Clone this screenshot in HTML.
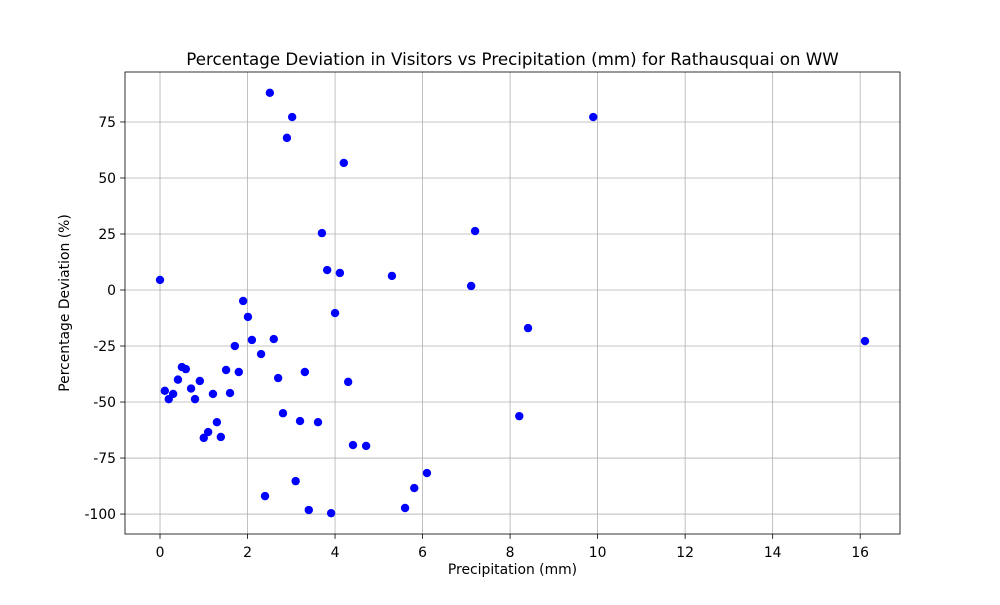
<!DOCTYPE html>
<html><head><meta charset="utf-8"><style>
body{margin:0;background:#fff;font-family:"Liberation Sans","DejaVu Sans",sans-serif}
svg text{font-family:"DejaVu Sans","Liberation Sans",sans-serif;fill:#000}
</style></head><body>
<svg id="chart" width="1000" height="600" xmlns="http://www.w3.org/2000/svg"></svg>
<script>
const precip = [0,0.11,0.2,0.3,0.41,0.5,0.59,0.71,0.8,0.91,1.0,1.1,1.21,1.3,1.39,1.51,1.6,1.71,1.8,1.9,2.01,2.1,2.31,2.4,2.51,2.6,2.7,2.81,2.9,3.02,3.1,3.2,3.31,3.4,3.61,3.7,3.82,3.91,4.0,4.11,4.2,4.3,4.41,4.71,5.3,5.6,5.81,6.1,7.11,7.2,8.21,8.41,9.9,16.11];
const deviation = [4.5,-45,-48.7,-46.4,-40,-34.4,-35.3,-44,-48.7,-40.6,-66,-63.4,-46.4,-59,-65.6,-35.7,-46,-25,-36.6,-4.9,-12,-22.3,-28.6,-92,88,-21.9,-39.3,-55,67.9,77.2,-85.3,-58.5,-36.6,-98.2,-59,25.4,8.9,-99.6,-10.3,7.6,56.7,-41,-69.2,-69.6,6.3,-97.3,-88.4,-81.7,1.8,26.3,-56.3,-17,77.2,-22.8];
const xTicks = [0,2,4,6,8,10,12,14,16];
const yTicks = [-100,-75,-50,-25,0,25,50,75];
const L=125,R=900,T=72,B=534;
const xMin=-0.8,xMax=16.91,yMin=-108.9,yMax=97.3;
const sx=v=>L+(v-xMin)/(xMax-xMin)*(R-L);
const sy=v=>B-(v-yMin)/(yMax-yMin)*(B-T);
const NS="http://www.w3.org/2000/svg";
const svg=document.getElementById('chart');
function mk(tag,attrs,parent){const e=document.createElementNS(NS,tag);for(const k in attrs)e.setAttribute(k,attrs[k]);(parent||svg).appendChild(e);return e;}
const grid=mk('g',{});


xTicks.forEach(t=>{const x=sx(t);
 mk('line',{x1:x,x2:x,y1:T,y2:B,stroke:'#b0b0b0','stroke-width':0.8},grid);
 mk('line',{x1:x,x2:x,y1:B,y2:B+4.9,stroke:'#000','stroke-width':0.8});
 const tx=mk('text',{x:x,y:B+23,'text-anchor':'middle','font-size':13.9});tx.textContent=t;
 
 
});
yTicks.forEach(t=>{const y=sy(t);
 mk('line',{x1:L,x2:R,y1:y,y2:y,stroke:'#b0b0b0','stroke-width':0.8},grid);
 mk('line',{x1:L-4.9,x2:L,y1:y,y2:y,stroke:'#000','stroke-width':0.8});
 const tx=mk('text',{x:L-9,y:y+5,'text-anchor':'end','font-size':13.9});tx.textContent=t;
 
 
});
const pts=mk('g',{});


precip.forEach((p,i)=>{const c=mk('circle',{cx:sx(p),cy:sy(deviation[i]),r:4.2,fill:'#0000ff'},pts);
 
 
});
const fr=mk('rect',{x:L,y:T,width:R-L,height:B-T,fill:'none',stroke:'#000','stroke-width':0.8});


const ti=mk('text',{x:(L+R)/2,y:65,'text-anchor':'middle','font-size':16.7});ti.textContent='Percentage Deviation in Visitors vs Precipitation (mm) for Rathausquai on WW';


const xl=mk('text',{x:(L+R)/2,y:574,'text-anchor':'middle','font-size':13.9});xl.textContent='Precipitation (mm)';


const yl=mk('text',{x:0,y:0,'text-anchor':'middle','font-size':13.9,transform:`translate(69,${(T+B)/2}) rotate(-90)`});yl.textContent='Percentage Deviation (%)';


</script>
</body></html>
